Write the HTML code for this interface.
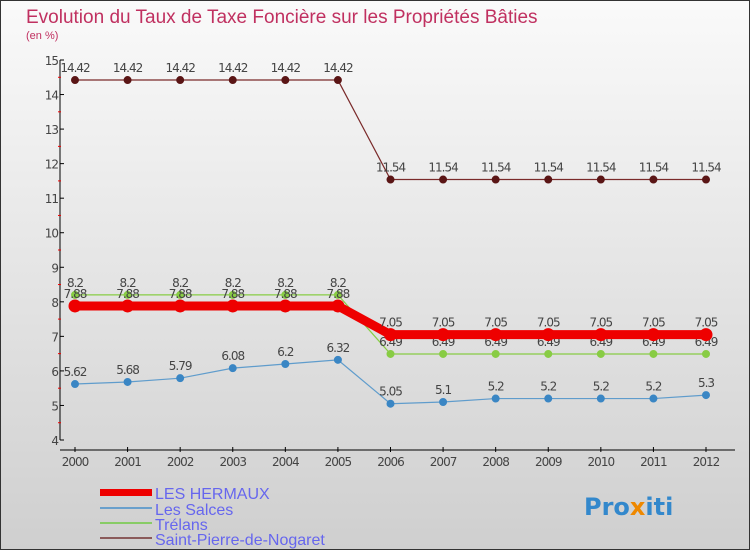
<!DOCTYPE html>
<html><head><meta charset="utf-8"><style>
body{margin:0;width:750px;height:550px;overflow:hidden}
svg{display:block;font-family:"DejaVu Sans","Liberation Sans",sans-serif}
</style></head><body>
<svg id="c" width="750" height="550">
<defs><linearGradient id="bg" x1="0" y1="0" x2="0" y2="1"><stop offset="0" stop-color="#fafafa"/><stop offset="1" stop-color="#cfcfcf"/></linearGradient></defs>
<rect x="0.5" y="0.5" width="749" height="549" fill="url(#bg)" stroke="#333"/>
<text x="26" y="23" font-size="19" fill="#c03060" style="font-family:'Liberation Sans',sans-serif">Evolution du Taux de Taxe Foncière sur les Propriétés Bâties</text>
<text x="26" y="39" font-size="11" fill="#c03060" style="font-family:'Liberation Sans',sans-serif">(en %)</text>
<g id="axes"></g><g id="series"></g>
<g style="font-family:'Liberation Sans',sans-serif">
<rect x="100" y="489" width="52" height="7" fill="#e00"/>
<text x="155" y="499" font-size="16" fill="#6666ee">LES HERMAUX</text>
<rect x="100" y="507" width="52" height="2" fill="#6aa0cc"/>
<text x="155" y="515" font-size="16" fill="#6666ee">Les Salces</text>
<rect x="100" y="522" width="52" height="2" fill="#88cc66"/>
<text x="155" y="530" font-size="16" fill="#6666ee">Trélans</text>
<rect x="100" y="537" width="52" height="2" fill="#8a5a5a"/>
<text x="155" y="545" font-size="16" fill="#6666ee">Saint-Pierre-de-Nogaret</text>
</g>
<g><text x="584" y="515" font-size="24" font-weight="bold" fill="#3388cc">Pro<tspan fill="#ee8800">x</tspan>iti</text></g>
</svg>
<script>
const years=[2000,2001,2002,2003,2004,2005,2006,2007,2008,2009,2010,2011,2012];
const yTicks=[4,5,6,7,8,9,10,11,12,13,14,15];
const hermaux=[7.88,7.88,7.88,7.88,7.88,7.88,7.05,7.05,7.05,7.05,7.05,7.05,7.05];
const salces=[5.62,5.68,5.79,6.08,6.2,6.32,5.05,5.1,5.2,5.2,5.2,5.2,5.3];
const trelans=[8.2,8.2,8.2,8.2,8.2,8.2,6.49,6.49,6.49,6.49,6.49,6.49,6.49];
const stpierre=[14.42,14.42,14.42,14.42,14.42,14.42,11.54,11.54,11.54,11.54,11.54,11.54,11.54];
const NS="http://www.w3.org/2000/svg";
const X=i=>75+i*(706-75)/12;
const Y=v=>440-(v-4)*(380/11);
function mk(t,a,p,txt){const e=document.createElementNS(NS,t);for(const k in a)e.setAttribute(k,a[k]);if(txt!==undefined)e.textContent=txt;p.appendChild(e);return e;}
const ax=document.getElementById('axes');
let e=mk('line',{x1:60,y1:60,x2:60,y2:440,stroke:'#000','stroke-width':1},ax);

e=mk('line',{x1:60,y1:450,x2:735,y2:450,stroke:'#000','stroke-width':1},ax);

yTicks.forEach(v=>{const y=Y(v);mk('line',{x1:60,y1:y,x2:64,y2:y,stroke:'#000'},ax);
 if(v<15)mk('line',{x1:58,y1:Y(v+0.5),x2:61,y2:Y(v+0.5),stroke:'#e00'},ax);
 e=mk('text',{x:58,y:y+5,'font-size':12,fill:'#444','text-anchor':'end','letter-spacing':'-1'},ax,String(v));
 });
years.forEach((yr,i)=>{const x=X(i);mk('line',{x1:x,y1:447,x2:x,y2:452,stroke:'#000'},ax);
 e=mk('text',{x:x,y:466,'font-size':12,fill:'#444','text-anchor':'middle','letter-spacing':'-1'},ax,String(yr));
 });
const sg=document.getElementById('series');
function series(name,vals,color,w,r,dot,dy){
 const g=mk('g',{},sg);
 mk('polyline',{points:vals.map((v,i)=>X(i)+','+Y(v)).join(' '),fill:'none',stroke:color,'stroke-width':w},g);
 vals.forEach((v,i)=>{const c=mk('circle',{cx:X(i),cy:Y(v),r:r,fill:dot,stroke:dot},g);
  
  const t=mk('text',{x:X(i),y:Y(v)+dy,'font-size':12,fill:'#444','text-anchor':'middle','letter-spacing':'-1'},g,String(v));
  });
}
series('saint-pierre-series',stpierre,'#7a2a2a',1.2,3.5,'#5a1515',-8);
series('trelans-series',trelans,'#88cc44',1.2,3.5,'#88cc44',-8);
series('les-salces-series',salces,'#5f9ccc',1.2,3.5,'#3a86c4',-8);
series('les-hermaux-series',hermaux,'#ee0000',9,6,'#ee0000',-8);
</script>
</body></html>
